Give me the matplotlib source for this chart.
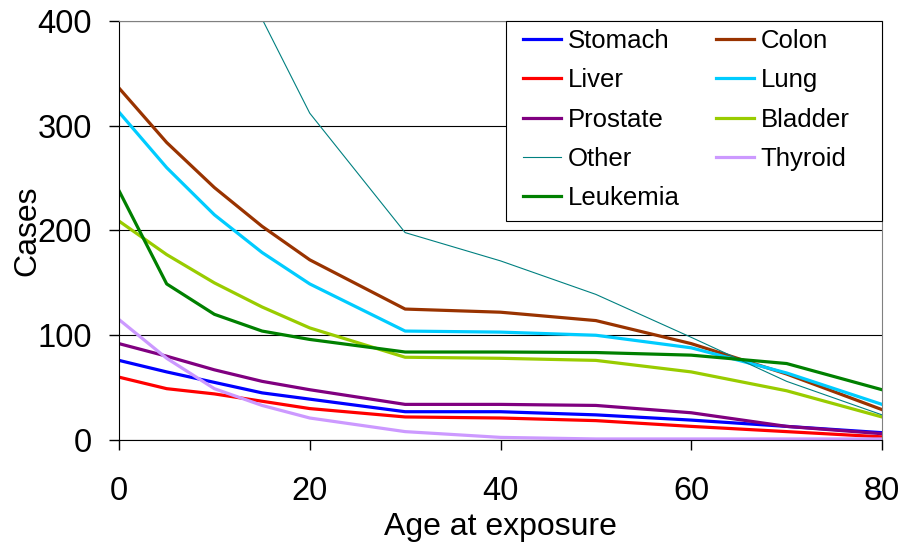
import matplotlib.pyplot as plt
from matplotlib.patches import Rectangle

plt.rcParams['font.family'] = ['Liberation Sans', 'DejaVu Sans']

# age at exposure
ages = [0, 5, 10, 15, 20, 30, 40, 50, 60, 70, 80]

stomach = [76, 65, 55, 45, 39, 27, 27, 24, 19, 13, 7]
colon = [336, 284, 241, 204, 172, 125, 122, 114, 92, 63, 29]
liver = [60, 49, 44, 37, 30, 22, 21, 18.5, 13, 8, 3]
lung = [313, 260, 215, 179, 149, 104, 103, 100, 88, 64, 34]
prostate = [92, 80, 67, 56, 48, 34, 34, 33, 26, 13, 6]
bladder = [209, 177, 150, 127, 107, 79, 78, 76, 65, 47, 22]
other = [900, 680, 520, 402, 312, 198, 171, 139, 98, 56, 24]
thyroid = [115, 78, 49, 33, 21, 8, 2.5, 1, 1, 1, 1]
leukemia = [238, 149, 120, 104, 96, 84, 84, 83.5, 81, 73, 48]

fig = plt.figure(figsize=(9.04, 5.42), dpi=100)
ax = fig.add_axes([119 / 904, 1 - 440 / 542, (882 - 119) / 904, (440 - 21) / 542])

lw = 2.3
l_stomach, = ax.plot(ages, stomach, color='#0000FF', lw=lw, label='Stomach')
l_colon, = ax.plot(ages, colon, color='#993300', lw=lw, label='Colon')
l_liver, = ax.plot(ages, liver, color='#FF0000', lw=lw, label='Liver')
l_lung, = ax.plot(ages, lung, color='#00CCFF', lw=lw, label='Lung')
l_prostate, = ax.plot(ages, prostate, color='#800080', lw=lw, label='Prostate')
l_bladder, = ax.plot(ages, bladder, color='#99CC00', lw=lw, label='Bladder')
l_other, = ax.plot(ages, other, color='#008080', lw=0.8, label='Other')
l_thyroid, = ax.plot(ages, thyroid, color='#CC99FF', lw=lw, label='Thyroid')
l_leukemia, = ax.plot(ages, leukemia, color='#008000', lw=lw, label='Leukemia')

ax.set_xlim(0, 80)
ax.set_ylim(0, 400)
ax.set_xticks([0, 20, 40, 60, 80])
ax.set_yticks([0, 100, 200, 300, 400])
ax.tick_params(labelsize=23.5, direction='out', length=7, width=1)
ax.tick_params(axis='x', pad=19)
ax.tick_params(axis='y', pad=12.5)

# horizontal gridlines
ax.grid(axis='y', color='black', lw=0.8, zorder=0)
ax.set_axisbelow(True)
for s in ['top', 'right']:
    ax.spines[s].set_color('#808080')
ax.spines['left'].set_color('black')
ax.spines['bottom'].set_color('black')

ax.set_xlabel('Age at exposure', fontsize=23)
ax.set_ylabel('Cases', fontsize=23)
ax.xaxis.set_label_coords(0.5, -0.172)
ax.yaxis.set_label_coords(-0.101, 0.5)

# legend box (wider than its contents, as in the original)
ax.add_patch(Rectangle(((506 - 119) / 763, (440 - 221) / 419),
                       1 - (506 - 119) / 763, 1 - (440 - 221) / 419,
                       transform=ax.transAxes, facecolor='white',
                       edgecolor='black', lw=0.8, zorder=4, clip_on=False))

# legend filled row-wise like the original
handles = [l_stomach, l_liver, l_prostate, l_other, l_leukemia,
           l_colon, l_lung, l_bladder, l_thyroid]
leg = ax.legend(handles=handles, labels=[h.get_label() for h in handles],
                ncol=2, loc='upper left', bbox_to_anchor=((515 - 119) / 763, 1.0),
                fontsize=18.5, frameon=False, handlelength=1.5,
                handletextpad=0.25, columnspacing=1.4, labelspacing=0.6,
                borderpad=0.3, borderaxespad=0.0)
leg.set_zorder(5)

fig.savefig('out.png', dpi=100)
